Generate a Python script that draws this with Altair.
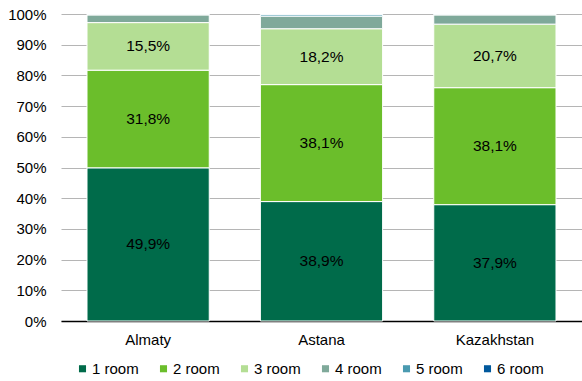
import altair as alt
import pandas as pd

cities = ["Almaty", "Astana", "Kazakhstan"]
rooms = ["1 room", "2 room", "3 room", "4 room", "5 room", "6 room"]
room1 = [49.9, 38.9, 37.9]
room2 = [31.8, 38.1, 38.1]
room3 = [15.5, 18.2, 20.7]
room4 = [2.5, 4.1, 3.0]
room5 = [0.2, 0.5, 0.2]
room6 = [0.1, 0.2, 0.1]
colors = ["#006B4A", "#6BBE2B", "#B4DE94", "#7FA99A", "#4A9AB0", "#00589C"]
label_rooms = ["1 room", "2 room", "3 room"]

series = [room1, room2, room3, room4, room5, room6]
rows = []
for ri, (room, vals) in enumerate(zip(rooms, series)):
    for city, v in zip(cities, vals):
        rows.append({"city": city, "room": room, "idx": ri, "value": v})
df = pd.DataFrame(rows)

FONT = "Liberation Sans"
FS = 15

base = alt.Chart(df).transform_stack(
    stack="value", groupby=["city"], as_=["y0", "y1"], sort=[alt.SortField("idx")]
).transform_calculate(mid="(datum.y0 + datum.y1) / 2")

xscale = alt.Scale(paddingInner=0.295, paddingOuter=0.15)
xaxis = alt.Axis(labelAngle=0, ticks=False, domainColor="#000000", domainWidth=1.5,
                 labelFont=FONT, labelFontSize=FS, labelColor="#000000",
                 labelPadding=11)
yscale = alt.Scale(domain=[0, 100], nice=False)
yaxis = alt.Axis(values=list(range(0, 101, 10)), labelExpr="datum.value + '%'",
                 ticks=False, domain=False, gridColor="#B5B5B5", gridWidth=1,
                 labelOverlap=False, labelFont=FONT, labelFontSize=FS,
                 labelColor="#000000", labelPadding=15)

bars = base.mark_bar(stroke="white", strokeWidth=1).encode(
    x=alt.X("city:N", sort=cities, title=None, scale=xscale, axis=xaxis),
    y=alt.Y("y0:Q", title=None, scale=yscale, axis=yaxis),
    y2="y1:Q",
    color=alt.Color("room:N", sort=rooms, scale=alt.Scale(domain=rooms, range=colors),
                    legend=alt.Legend(title=None, orient="none", legendX=14, legendY=347,
                                      direction="horizontal", columns=6, symbolType="square",
                                      symbolSize=50, symbolStrokeWidth=0, labelFont=FONT,
                                      labelFontSize=FS, labelColor="#000000",
                                      labelOffset=2, columnPadding=17)),
    order=alt.Order("idx:Q"),
)

texts = base.transform_filter(
    alt.FieldOneOfPredicate(field="room", oneOf=label_rooms)
).transform_calculate(
    label="replace(format(datum.value, '.1f'), '.', ',') + '%'"
).mark_text(font=FONT, fontSize=15.5, color="#000000").encode(
    x=alt.X("city:N", sort=cities, title=None, scale=xscale, axis=xaxis),
    y=alt.Y("mid:Q", title=None, scale=yscale, axis=yaxis),
    text="label:N",
)

chart = alt.layer(bars, texts).properties(
    width=521, height=307,
    autosize=alt.AutoSizeParams(type="none"),
    padding={"left": 61, "top": 14, "right": 0, "bottom": 60},
).configure_view(stroke=None)

chart.save("out.html", embed_options={"renderer": "svg", "actions": False})
